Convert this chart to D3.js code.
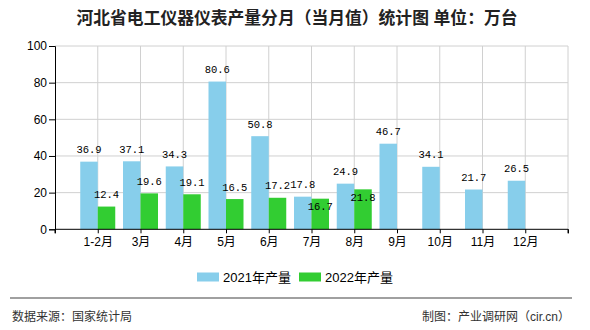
<!DOCTYPE html>
<html><head><meta charset="utf-8">
<script src="https://cdn.jsdelivr.net/npm/d3@7"></script>
<style>
body{margin:0;background:#fff;}
svg{display:block;}
</style></head>
<body>
<svg id="chart" width="590" height="330"></svg>
<script>
const categories = ["1-2月","3月","4月","5月","6月","7月","8月","9月","10月","11月","12月"];
const values2021 = [36.9,37.1,34.3,80.6,50.8,17.8,24.9,46.7,34.1,21.7,26.5];
const values2022 = [12.4,19.6,19.1,16.5,17.2,16.7,21.8,null,null,null,null];
const seriesNames = ["2021年产量","2022年产量"];
const yTicks = [0,20,40,60,80,100];
const colors = ["#87CEEB","#32CD32"];

(function(){
const svg = d3.select("#chart");
const pL=55, pR=568, pT=46, pB=229.3;
const x = d3.scaleLinear().domain([0, categories.length+1]).range([pL,pR]);
const y = d3.scaleLinear().domain([0,100]).range([pB,pT]);
const bw = 17.5;
const cjk = "'Liberation Sans','Noto Sans CJK SC',sans-serif";
const mono = "'Liberation Mono','Noto Sans CJK SC',monospace";

// title
svg.append("text").attr("x",297).attr("y",24).attr("text-anchor","middle")
  .attr("font-family",cjk).attr("font-size",16.8).attr("font-weight","bold").attr("fill","#222")
  .text("河北省电工仪器仪表产量分月（当月值）统计图 单位：万台");

// grid
const g = svg.append("g");
g.selectAll("line.h").data(yTicks.filter(d=>d>0)).enter().append("line")
  .attr("x1",pL).attr("x2",pR).attr("y1",d=>y(d)).attr("y2",d=>y(d))
  .attr("stroke","#d0d0d0").attr("stroke-width",1);
const vpos = d3.range(1, categories.length+1).concat([categories.length+1]);
g.selectAll("line.v").data(vpos).enter().append("line")
  .attr("x1",d=>x(d)).attr("x2",d=>x(d)).attr("y1",pT).attr("y2",pB)
  .attr("stroke","#d0d0d0").attr("stroke-width",1);

// bars
const series = [values2021, values2022];
series.forEach((vals, si)=>{
  const data = vals.map((v,i)=>({v,i})).filter(d=>d.v!=null);
  svg.append("g").selectAll("rect").data(data).enter().append("rect")
    .attr("x",d=>x(d.i+1) + (si===0 ? -bw : 0))
    .attr("y",d=>y(d.v)).attr("width",bw).attr("height",d=>y(0)-y(d.v))
    .attr("fill",colors[si]);
});
// labels with simple collision avoidance: second-series label moves inside its bar
const labelGap = 8.5, labelH = 10;
series.forEach((vals, si)=>{
  const data = vals.map((v,i)=>({v,i})).filter(d=>d.v!=null);
  svg.append("g").selectAll("text").data(data).enter().append("text")
    .attr("x",d=>x(d.i+1) + (si===0 ? -bw/2 : bw/2))
    .attr("y",d=>{
      let yy = y(d.v)-labelGap;
      if (si===1 && values2021[d.i]!=null) {
        const yb = y(values2021[d.i])-labelGap;
        if (Math.abs(yb-yy) < labelH) yy = y(d.v)+11.5;
      }
      return yy;
    })
    .attr("text-anchor","middle")
    .attr("font-family",mono).attr("font-size",10.5).attr("fill","#000")
    .text(d=>d.v.toFixed(1));
});

// y axis
const yAxis = d3.axisLeft(y).tickValues(yTicks).tickSize(6).tickPadding(2);
const ya = svg.append("g").attr("transform",`translate(${pL},0)`).call(yAxis);
ya.select(".domain").attr("stroke","#000");
ya.selectAll(".tick line").attr("stroke","#000");
ya.selectAll("text").attr("font-family","'Liberation Sans',sans-serif").attr("font-size",12).attr("fill","#000");

// x axis
const xAxis = d3.axisBottom(x).tickValues(d3.range(0, categories.length+2)).tickSize(4).tickPadding(4)
  .tickFormat(d=> (d>=1 && d<=categories.length) ? categories[d-1] : "");
const xa = svg.append("g").attr("transform",`translate(0,${pB})`).call(xAxis);
xa.select(".domain").attr("stroke","#000").attr("d",`M${pL},4V0H${pR}V4`);
xa.selectAll(".tick line").attr("stroke","#000");
xa.selectAll("text").attr("font-family",cjk).attr("font-size",12).attr("fill","#000");

// legend
const lg = svg.append("g");
const lx = [197, 299];
seriesNames.forEach((n,i)=>{
  lg.append("rect").attr("x",lx[i]).attr("y",272.5).attr("width",22).attr("height",9).attr("fill",colors[i]);
  lg.append("text").attr("x",lx[i]+26).attr("y",282).attr("font-family",cjk).attr("font-size",13).attr("fill","#000").text(n);
});

// footer
svg.append("line").attr("x1",10).attr("x2",572).attr("y1",298).attr("y2",298).attr("stroke","#808080").attr("stroke-width",1.5);
svg.append("text").attr("x",12).attr("y",321).attr("font-family",cjk).attr("font-size",12).attr("fill","#333").text("数据来源：国家统计局");
svg.append("text").attr("x",570).attr("y",321).attr("text-anchor","end").attr("font-family",cjk).attr("font-size",12).attr("fill","#333").text("制图：产业调研网（cir.cn）");
})();
</script>
</body></html>
